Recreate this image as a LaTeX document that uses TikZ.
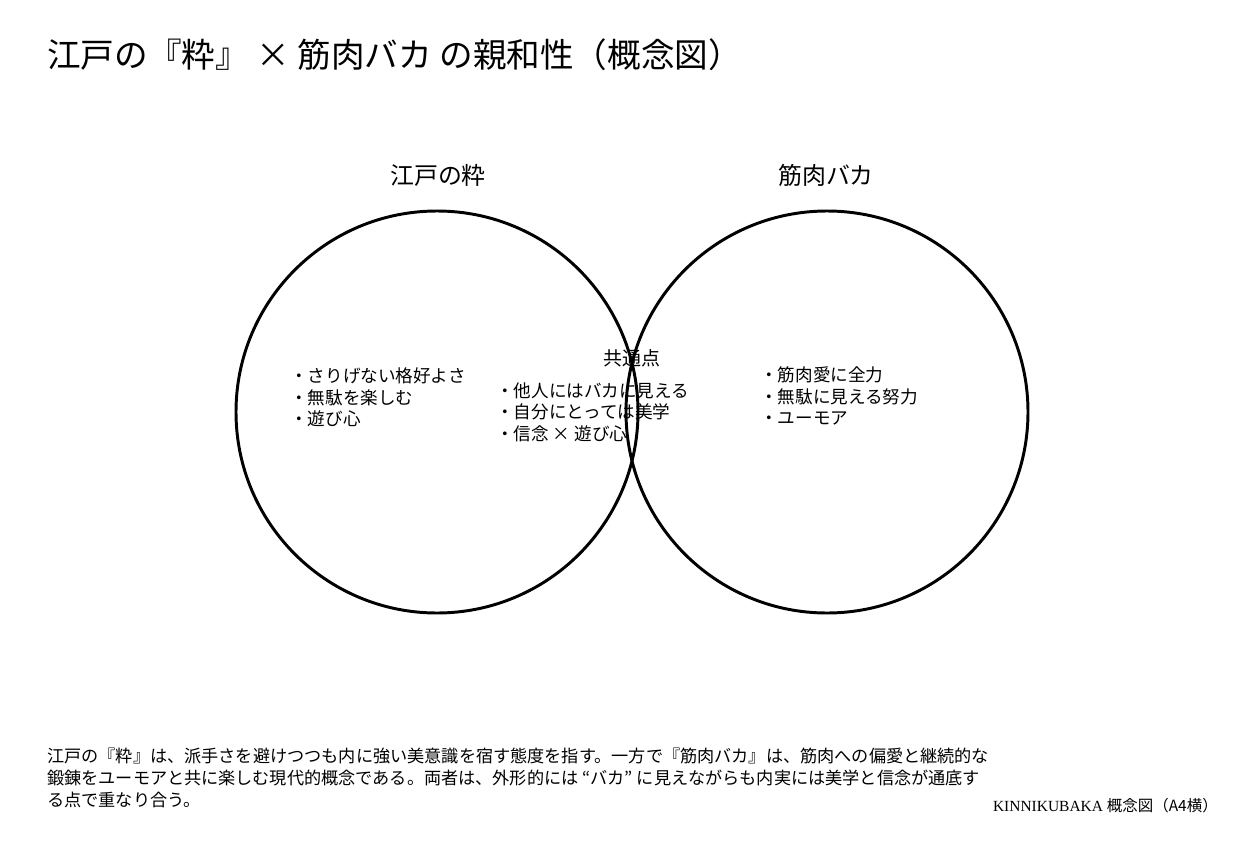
\documentclass[tikz,border=0pt]{standalone}
\usepackage{fontspec}
\setmainfont{Liberation Serif}
\newfontfamily\jp{Noto Sans CJK JP}
\usepackage{tikz}

\tikzset{
  txt/.style={inner sep=0pt,font=\jp\fontsize{12.5}{15.6}\selectfont,align=left},
  ring/.style={line width=2.1pt}
}

\begin{document}
\begin{tikzpicture}[x=0.025cm,y=-0.025cm]
      \pgfmathsetmacro{\rad}{201*0.025}
      \useasboundingbox[fill=white] (0,0) rectangle (1258,868);
      % Title
      \node[anchor=west,inner sep=0pt,font=\jp\fontsize{23.9}{28}\selectfont] (title) at (47,55) {江戸の『粋』 × 筋肉バカ の親和性（概念図）};
      % Circles
      \coordinate (edo) at (437,412);
      \coordinate (kin) at (827,412);
      \draw[ring] (edo) circle[radius=\rad cm];
      \draw[ring] (kin) circle[radius=\rad cm];
      \node[inner sep=0pt,font=\jp\fontsize{17}{20}\selectfont] (edolabel) at (438,175) {江戸の粋};
      \node[inner sep=0pt,font=\jp\fontsize{17}{20}\selectfont] (kinlabel) at (826,175) {筋肉バカ};
      % Items
      \node[txt,anchor=north west] (edoitems) at (290,367) {・さりげない格好よさ\\・無駄を楽しむ\\・遊び心};
      \node[inner sep=0pt,font=\jp\fontsize{13.5}{16}\selectfont] (common) at (632,358) {共通点};
      \node[txt,anchor=north west] (commonitems) at (496,382) {・他人にはバカに見える\\・自分にとっては美学\\・信念 × 遊び心};
      \node[txt,anchor=north west] (kinitems) at (760,366) {・筋肉愛に全力\\・無駄に見える努力\\・ユーモア};
      % Note and footer
      \node[txt,anchor=north west,font=\jp\fontsize{12.2}{15.6}\selectfont] (note) at (47,748) {江戸の『粋』は、派手さを避けつつも内に強い美意識を宿す態度を指す。一方で『筋肉バカ』は、筋肉への偏愛と継続的な\\鍛錬をユーモアと共に楽しむ現代的概念である。両者は、外形的には “バカ” に見えながらも内実には美学と信念が通底す\\る点で重なり合う。};
      \node[anchor=east,inner sep=0pt,font=\fontsize{11}{14}\selectfont] (footer) at (1218,806) {KINNIKUBAKA {\jp 概念図（A4横）}};
\end{tikzpicture}
\end{document}
